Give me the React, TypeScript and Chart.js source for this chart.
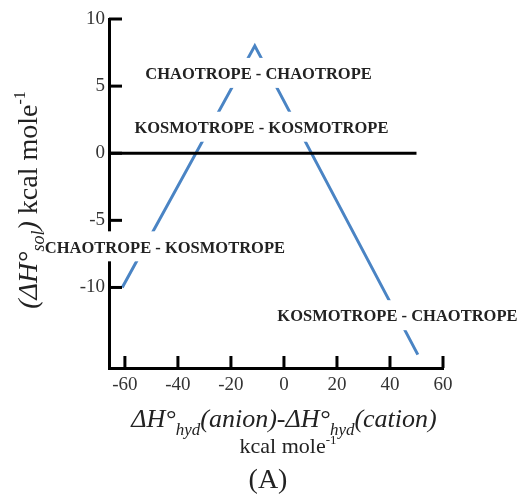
import React, { useEffect, useRef } from "react";
import { Chart, registerables } from "chart.js";

Chart.register(...registerables);

// ---- data ----
const xTicks = [-60, -40, -20, 0, 20, 40, 60];
const yTicks = [-10, -5, 0, 5, 10];
const xRange = [-66, 60];
const yRange = [-16, 10];
const curveX = [-61, -11, 50.5];
const curveY = [-10, 8, -15];
const zeroX = [-66, 50];
const zeroY = [0, 0];
const regionLabels = [
  "CHAOTROPE - CHAOTROPE",
  "KOSMOTROPE - KOSMOTROPE",
  "CHAOTROPE - KOSMOTROPE",
  "KOSMOTROPE - CHAOTROPE",
];
const regionX = [-9.6, -8.5, -44.9, 42.8];
const regionY = [5.91, 1.9, -7.01, -12.14];

const SERIF = "'Liberation Serif', 'DejaVu Serif', serif";

type Run = { t: string; style?: string; size: number; dy?: number };

function drawRuns(ctx: CanvasRenderingContext2D, runs: Run[], cx: number, baseline: number) {
  let total = 0;
  for (const r of runs) {
    ctx.font = `${r.style || ""} ${r.size}px ${SERIF}`;
    total += ctx.measureText(r.t).width;
  }
  let x = cx - total / 2;
  ctx.textAlign = "left";
  ctx.textBaseline = "alphabetic";
  for (const r of runs) {
    ctx.font = `${r.style || ""} ${r.size}px ${SERIF}`;
    ctx.fillText(r.t, x, baseline + (r.dy || 0));
    x += ctx.measureText(r.t).width;
  }
}

const overlayPlugin = {
  id: "overlay",
  afterDraw(chart: any) {
    const ctx: CanvasRenderingContext2D = chart.ctx;
    const xs = chart.scales.x;
    const ys = chart.scales.y;
    const area = chart.chartArea;
    ctx.save();
    // inward tick marks
    ctx.strokeStyle = "#000";
    ctx.lineWidth = 3;
    ctx.lineCap = "butt";
    for (const v of xTicks) {
      const px = xs.getPixelForValue(v);
      ctx.beginPath();
      ctx.moveTo(px, area.bottom);
      ctx.lineTo(px, area.bottom - 12);
      ctx.stroke();
    }
    for (const v of yTicks) {
      const py = ys.getPixelForValue(v);
      ctx.beginPath();
      ctx.moveTo(area.left, py);
      ctx.lineTo(area.left + 13, py);
      ctx.stroke();
    }
    // region labels on white boxes
    ctx.font = `bold 16.5px ${SERIF}`;
    ctx.textAlign = "center";
    ctx.textBaseline = "middle";
    regionLabels.forEach((lab, i) => {
      const px = xs.getPixelForValue(regionX[i]);
      const py = ys.getPixelForValue(regionY[i]);
      const w = ctx.measureText(lab).width;
      ctx.fillStyle = "#fff";
      ctx.fillRect(px - w / 2 - 3, py - 16, w + 6, 30);
      ctx.fillStyle = "#222";
      ctx.fillText(lab, px, py + 1);
    });
    // axis titles
    ctx.fillStyle = "#222";
    drawRuns(
      ctx,
      [
        { t: "ΔH°", style: "italic", size: 26 },
        { t: "hyd", style: "italic", size: 17, dy: 8 },
        { t: "(anion)-ΔH°", style: "italic", size: 26 },
        { t: "hyd", style: "italic", size: 17, dy: 8 },
        { t: "(cation)", style: "italic", size: 26 },
      ],
      284,
      427
    );
    drawRuns(
      ctx,
      [
        { t: "kcal mole", size: 22 },
        { t: "-1", size: 13, dy: -9 },
      ],
      288,
      453
    );
    drawRuns(ctx, [{ t: "(A)", size: 28 }], 268, 488);
    ctx.save();
    ctx.translate(37, 200);
    ctx.rotate(-Math.PI / 2);
    drawRuns(
      ctx,
      [
        { t: "(ΔH°", style: "italic", size: 28 },
        { t: "sol", style: "italic", size: 18, dy: 7 },
        { t: ")", style: "italic", size: 28 },
        { t: " kcal mole", size: 28 },
        { t: "-1", size: 16, dy: -12 },
      ],
      0,
      0
    );
    ctx.restore();
    ctx.restore();
  },
};

export default function App() {
  const ref = useRef<HTMLCanvasElement | null>(null);
  useEffect(() => {
    if (!ref.current) return;
    const chart = new Chart(ref.current, {
      type: "scatter",
      data: {
        datasets: [
          {
            data: zeroX.map((x, i) => ({ x, y: zeroY[i] })),
            showLine: true,
            borderColor: "#000",
            borderWidth: 3,
            pointRadius: 0,
          },
          {
            data: curveX.map((x, i) => ({ x, y: curveY[i] })),
            showLine: true,
            borderColor: "#4a84c4",
            borderWidth: 3,
            pointRadius: 0,
          },
        ],
      },
      plugins: [overlayPlugin],
      options: {
        animation: false,
        responsive: false,
        events: [],
        layout: { padding: { top: 19, right: 79, left: 0, bottom: 0 } },
        plugins: { legend: { display: false }, tooltip: { enabled: false } },
        scales: {
          x: {
            type: "linear",
            min: xRange[0],
            max: xRange[1],
            afterFit: (s: any) => {
              s.height = 128;
            },
            afterBuildTicks: (s: any) => {
              s.ticks = xTicks.map((v) => ({ value: v }));
            },
            grid: { display: false, drawTicks: false },
            border: { display: true, color: "#000", width: 3 },
            ticks: {
              padding: 6,
              color: "#333",
              font: { family: SERIF, size: 19 },
              callback: (v: any) => String(v),
              maxRotation: 0,
            },
          },
          y: {
            type: "linear",
            min: yRange[0],
            max: yRange[1],
            afterFit: (s: any) => {
              s.width = 109;
            },
            afterBuildTicks: (s: any) => {
              s.ticks = yTicks.map((v) => ({ value: v }));
            },
            grid: { display: false, drawTicks: false },
            border: { display: true, color: "#000", width: 3 },
            ticks: {
              padding: 4,
              color: "#333",
              font: { family: SERIF, size: 19 },
              callback: (v: any) => String(v),
            },
          },
        },
      },
    } as any);
    return () => chart.destroy();
  }, []);
  return (
    <div style={{ position: "absolute", left: 0, top: 0, width: 522, height: 496, background: "#fff" }}>
      <canvas ref={ref} width={522} height={496} style={{ display: "block" }} />
    </div>
  );
}
